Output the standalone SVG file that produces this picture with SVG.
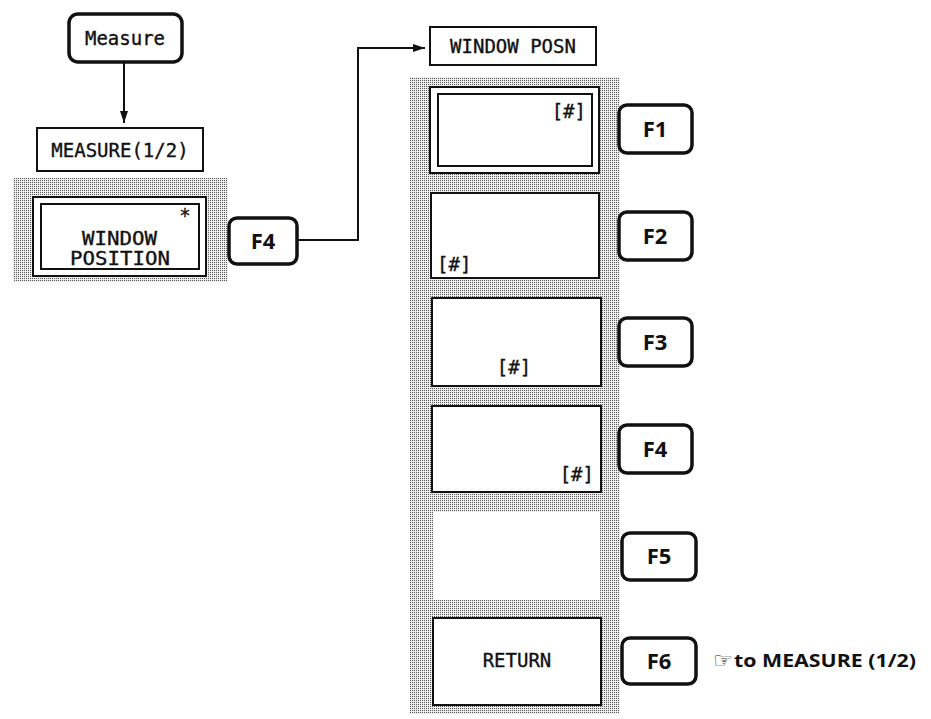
<svg xmlns="http://www.w3.org/2000/svg" width="931" height="719" viewBox="0 0 931 719">
<defs>
<pattern id="dots" width="2" height="2" patternUnits="userSpaceOnUse">
<rect width="2" height="2" fill="#eeeeee"/>
<rect x="0" y="0" width="1" height="1" fill="#555"/>
</pattern>
<marker id="arr" viewBox="0 0 12 8" refX="12" refY="4" markerWidth="12" markerHeight="8" markerUnits="userSpaceOnUse" orient="auto">
<path d="M0,0 L12,4 L0,8 Z" fill="#111"/>
</marker>
</defs>
<style>
.mono{font-family:"DejaVu Sans Mono","Liberation Mono",monospace;font-size:19px;fill:#111;stroke:#111;stroke-width:0.35}
.key{fill:#fff;stroke:#111;stroke-width:3.5}
.klab{font-family:"Open Sans","DejaVu Sans",sans-serif;font-weight:bold;font-size:22px;fill:#111;text-anchor:middle}
.box{fill:#fff;stroke:#111;stroke-width:2}
.gray{fill:url(#dots)}
.conn{fill:none;stroke:#111;stroke-width:2}
</style>
<rect width="931" height="719" fill="#fff"/>

<g id="measure-key">
<rect class="key" x="69" y="14" width="113" height="48" rx="9"/>
<text class="mono" x="125" y="45" text-anchor="middle">Measure</text>
</g>

<g id="measure-menu">
<rect class="box" x="37" y="128" width="166" height="43"/>
<text class="mono" x="120" y="157" text-anchor="middle">MEASURE(1/2)</text>
</g>

<g id="left-panel">
<rect class="gray" x="13" y="178" width="215" height="104"/>
<rect class="box" x="33" y="197" width="173" height="79"/>
<rect class="box" x="41" y="204" width="158" height="65"/>
<text class="mono" x="185" y="222" text-anchor="middle">*</text>
<text class="mono" x="82" y="245" font-size="17" textLength="75" lengthAdjust="spacingAndGlyphs">WINDOW</text>
<text class="mono" x="70" y="265" font-size="17" textLength="100" lengthAdjust="spacingAndGlyphs">POSITION</text>
</g>

<g id="f4-key-left">
<rect class="key" x="229" y="218" width="68" height="46" rx="8"/>
<text class="klab" x="263" y="249">F4</text>
</g>

<g id="window-posn-title">
<rect class="box" x="430" y="27" width="166" height="38"/>
<text class="mono" x="513" y="53" text-anchor="middle">WINDOW POSN</text>
</g>

<g id="right-panel">
<rect class="gray" x="410" y="77" width="210" height="637"/>
</g>

<g id="item-f1">
<rect class="box" x="430" y="87" width="169" height="86"/>
<rect class="box" x="438" y="94" width="154" height="72"/>
<text class="mono" x="586" y="118" text-anchor="end">[#]</text>
</g>
<g id="item-f2">
<rect class="box" x="431" y="193" width="168" height="85"/>
<text class="mono" x="437" y="271">[#]</text>
</g>
<g id="item-f3">
<rect class="box" x="432" y="298" width="169" height="88"/>
<text class="mono" x="514" y="374" text-anchor="middle">[#]</text>
</g>
<g id="item-f4">
<rect class="box" x="432" y="406" width="169" height="86"/>
<text class="mono" x="594" y="481" text-anchor="end">[#]</text>
</g>
<g id="item-f5">
<rect x="433" y="512" width="167" height="88" fill="#fff"/>
</g>
<g id="item-f6">
<rect class="box" x="433" y="618" width="168" height="87"/>
<text class="mono" x="517" y="667" text-anchor="middle">RETURN</text>
</g>

<g id="key-f1"><rect class="key" x="619" y="105" width="73" height="48" rx="8"/><text class="klab" x="655" y="137">F1</text></g>
<g id="key-f2"><rect class="key" x="619" y="212" width="73" height="48" rx="8"/><text class="klab" x="655" y="244">F2</text></g>
<g id="key-f3"><rect class="key" x="619" y="318" width="73" height="48" rx="8"/><text class="klab" x="655" y="350">F3</text></g>
<g id="key-f4"><rect class="key" x="619" y="425" width="73" height="48" rx="8"/><text class="klab" x="655" y="457">F4</text></g>
<g id="key-f5"><rect class="key" x="622" y="533" width="74" height="47" rx="8"/><text class="klab" x="659" y="564">F5</text></g>
<g id="key-f6"><rect class="key" x="622" y="638" width="74" height="46" rx="8"/><text class="klab" x="659" y="669">F6</text></g>

<g id="return-note">
<text x="713" y="668" font-family="DejaVu Sans,sans-serif" font-size="22" fill="#111">☞</text>
<text x="734" y="667" font-family="Open Sans,DejaVu Sans,sans-serif" font-weight="bold" font-size="18" fill="#111" textLength="182" lengthAdjust="spacingAndGlyphs">to MEASURE (1/2)</text>
</g>

<g id="connectors">
<line class="conn" x1="124" y1="62" x2="124" y2="123" marker-end="url(#arr)"/>
<polyline class="conn" points="297,240 358,240 358,48 425,48" marker-end="url(#arr)"/>
</g>
</svg>
